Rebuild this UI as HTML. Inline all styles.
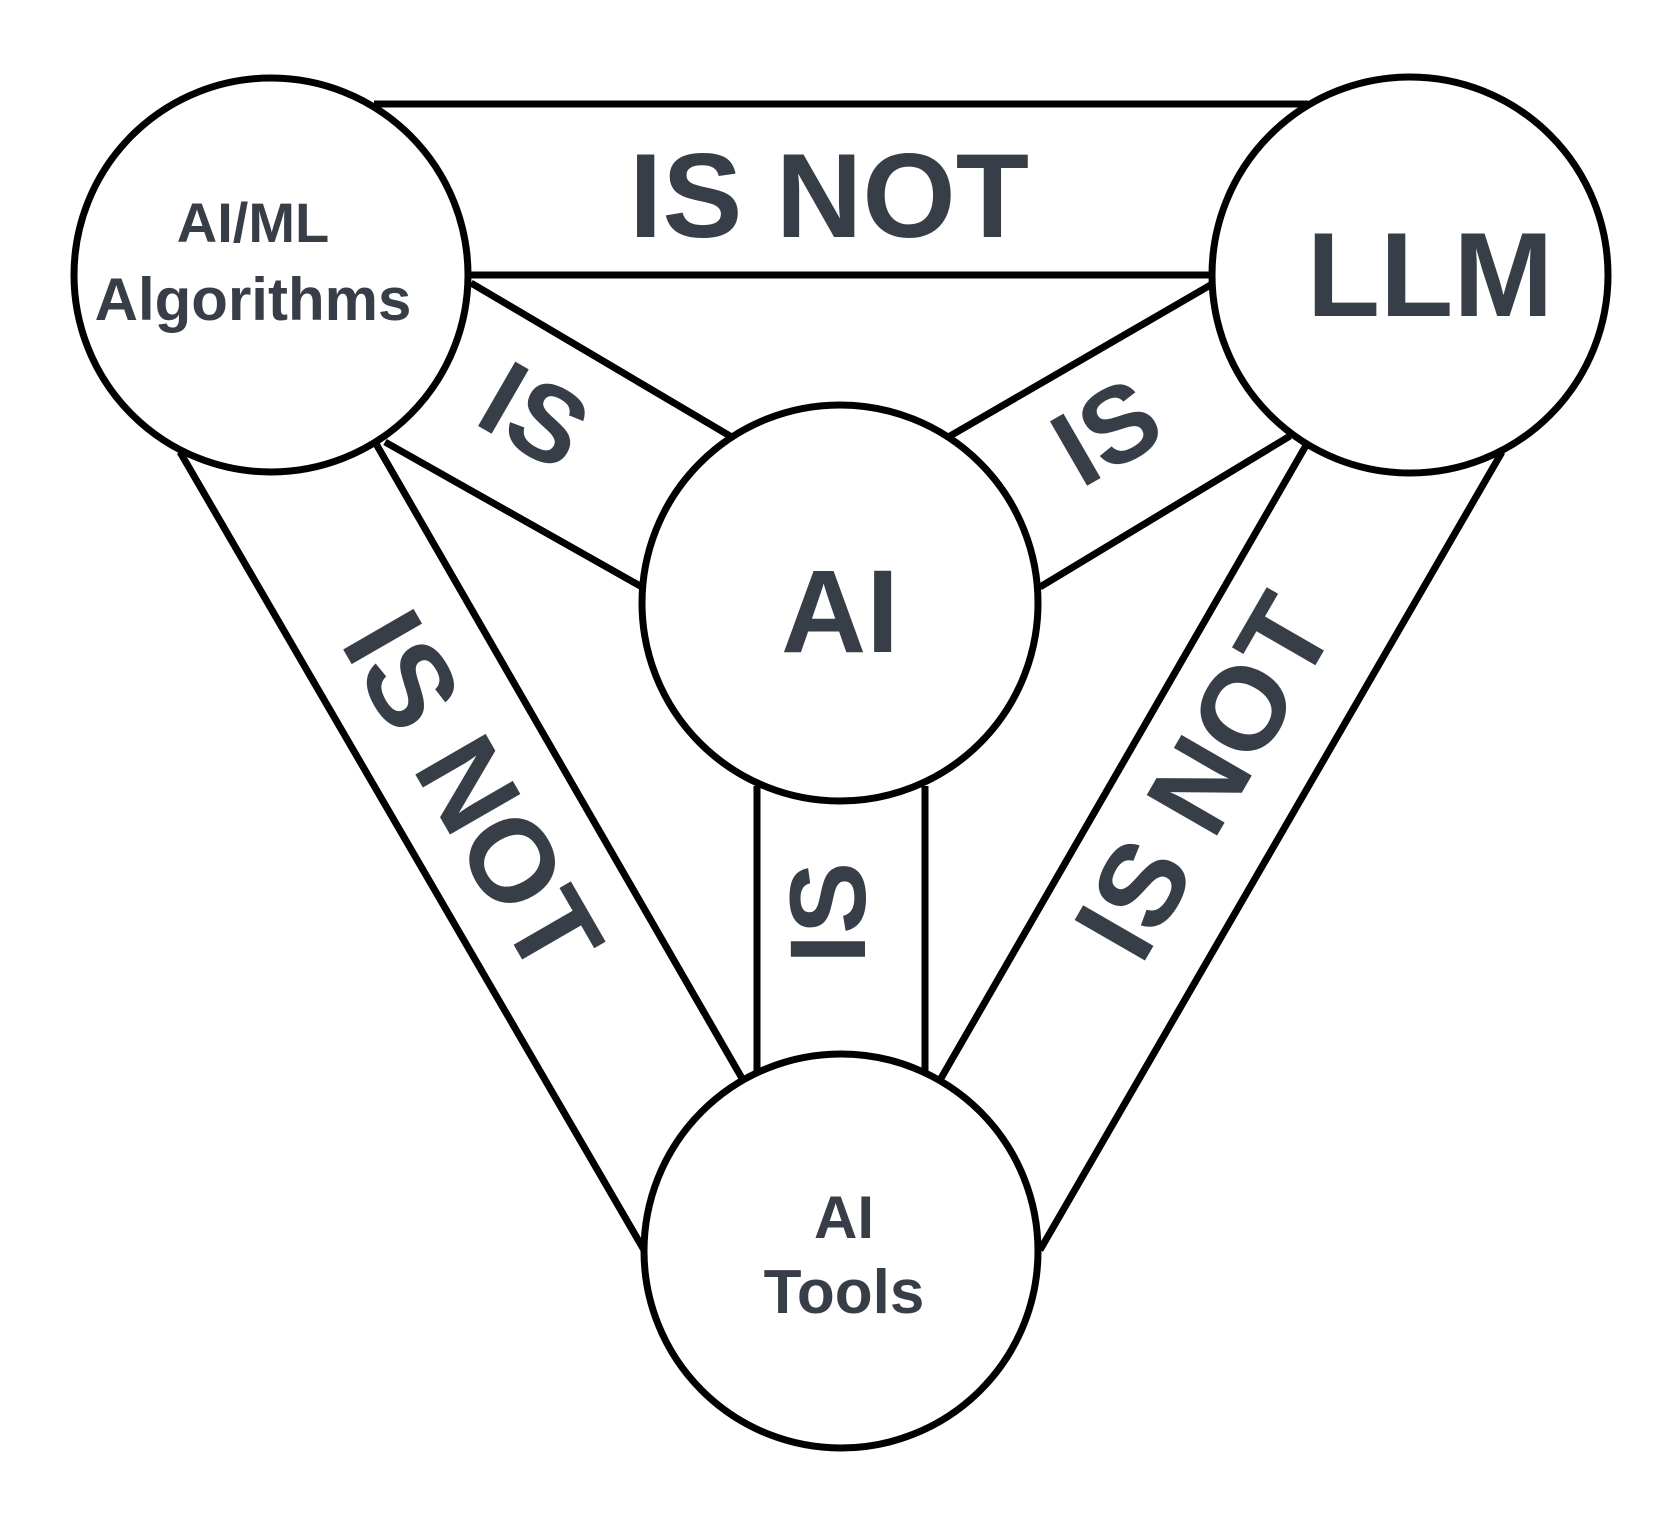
<!DOCTYPE html>
<html><head><style>html,body{margin:0;padding:0;background:#fff}</style></head>
<body>
<svg width="1680" height="1520" viewBox="0 0 1680 1520" xmlns="http://www.w3.org/2000/svg">
<g stroke="#000" stroke-width="7" fill="none">
<line x1="374" y1="104" x2="1308" y2="104"/>
<line x1="471" y1="275" x2="1214" y2="275"/>
<line x1="471" y1="283" x2="730" y2="436"/>
<line x1="385" y1="442" x2="642" y2="587"/>
<line x1="1214" y1="283" x2="950" y2="436"/>
<line x1="1290" y1="436" x2="1040" y2="587"/>
<line x1="757" y1="786" x2="757" y2="1072"/>
<line x1="925" y1="786" x2="925" y2="1072"/>
<line x1="180" y1="452" x2="644" y2="1250"/>
<line x1="375" y1="442" x2="743" y2="1080"/>
<line x1="1502" y1="452" x2="1040" y2="1250"/>
<line x1="1308" y1="442" x2="940" y2="1080"/>
</g>
<g stroke="#000" stroke-width="7" fill="#fff">
<circle cx="271" cy="275" r="197"/>
<circle cx="1410" cy="275" r="198"/>
<circle cx="840" cy="603" r="198"/>
<circle cx="841" cy="1251" r="197"/>
</g>
<g fill="#383e47" font-family="Liberation Sans, sans-serif" font-weight="bold" text-anchor="middle">
<text x="829" y="237" font-size="120">IS NOT</text>
<text x="253" y="242" font-size="56">AI/ML</text>
<text x="253" y="320" font-size="60">Algorithms</text>
<text x="1430" y="316" font-size="120">LLM</text>
<text x="840" y="652" font-size="118">AI</text>
<text x="844" y="1238" font-size="60">AI</text>
<text x="844" y="1313" font-size="62">Tools</text>
<text transform="translate(535,415) rotate(30)" y="38" font-size="108">IS</text>
<text transform="translate(1106,431) rotate(-30)" y="38" font-size="108">IS</text>
<text transform="translate(827,913) rotate(-90)" y="38" font-size="108">IS</text>
<text transform="translate(474,792) rotate(60)" y="42" font-size="118">IS NOT</text>
<text transform="translate(1203,776) rotate(-60)" y="42" font-size="118">IS NOT</text>
</g>
</svg>
</body></html>
